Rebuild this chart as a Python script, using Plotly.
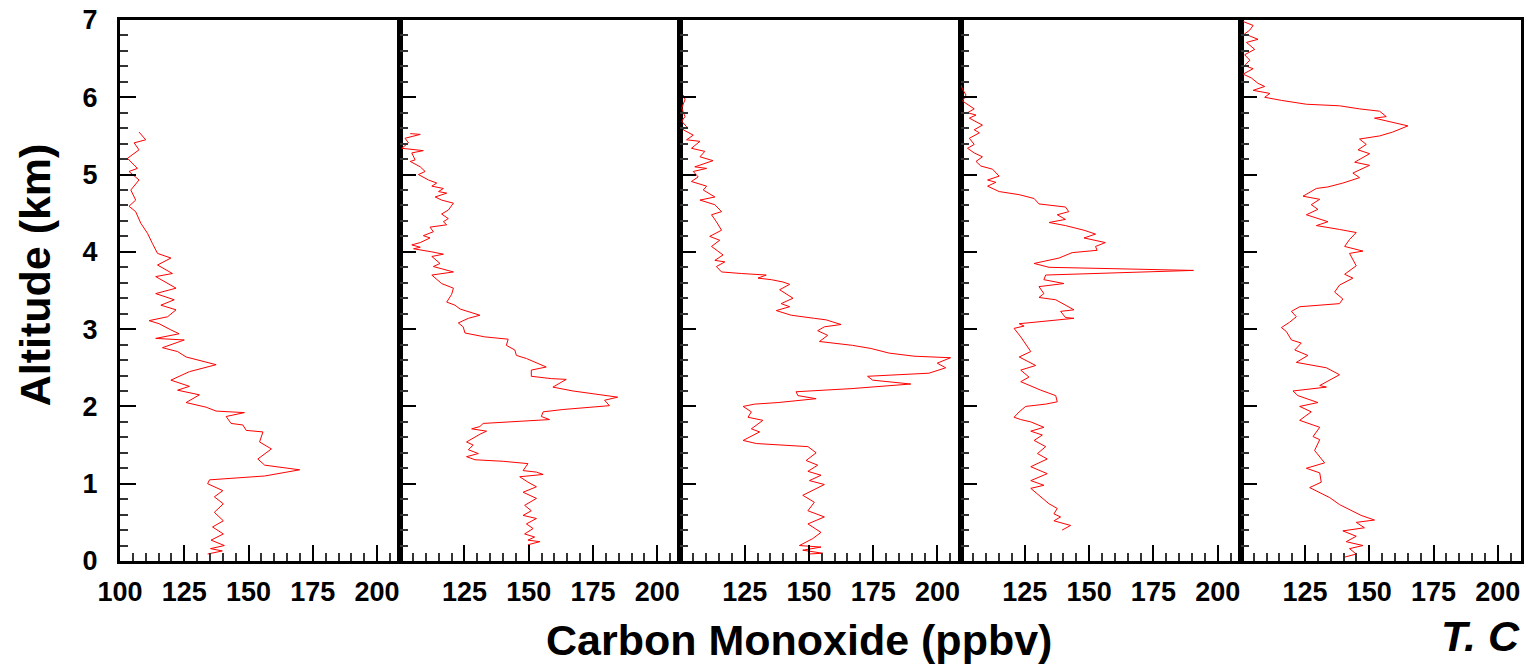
import plotly.graph_objects as go
from plotly.subplots import make_subplots

# CO profiles (ppbv) vs altitude (km), one per panel
alt_1 = [5.55, 5.45, 5.41, 5.32, 5.21, 5.08, 5.04, 4.93, 4.80, 4.67, 4.59, 4.52, 4.37, 4.24, 4.11,
         3.98, 3.92, 3.83, 3.72, 3.68, 3.53, 3.46, 3.38, 3.31, 3.25, 3.16, 3.11, 3.07, 2.99, 2.94,
         2.88, 2.86, 2.76, 2.71, 2.64, 2.54, 2.45, 2.34, 2.26, 2.21, 2.15, 2.05, 1.99, 1.94, 1.92,
         1.87, 1.78, 1.76, 1.69, 1.67, 1.54, 1.45, 1.32, 1.24, 1.18, 1.10, 1.05, 1.00, 0.91, 0.83,
         0.74, 0.63, 0.52, 0.44, 0.35, 0.27, 0.20, 0.16, 0.13, 0.09]
co_1 = [107.4, 110.0, 105.5, 107.4, 102.9, 106.8, 103.5, 107.4, 104.2, 106.1, 103.5, 106.1, 108.1, 110.7, 112.6,
        114.6, 119.8, 114.6, 120.4, 113.9, 121.8, 113.9, 121.1, 115.9, 121.8, 118.5, 111.3, 115.2, 119.8, 123.0,
        113.9, 125.0, 116.5, 122.4, 125.7, 137.4, 127.0, 119.8, 127.0, 122.4, 130.9, 125.7, 133.5, 137.4, 148.4,
        141.3, 143.2, 147.8, 149.1, 155.6, 154.3, 158.9, 153.6, 156.3, 169.9, 156.3, 134.8, 134.1, 140.0, 136.7,
        140.2, 136.7, 140.2, 136.0, 140.2, 135.4, 140.6, 135.2, 139.8, 134.1]

alt_2 = [5.53, 5.52, 5.47, 5.41, 5.34, 5.31, 5.28, 5.19, 5.17, 5.10, 5.04, 5.00, 4.93, 4.89, 4.85,
         4.82, 4.78, 4.76, 4.71, 4.67, 4.63, 4.54, 4.49, 4.43, 4.39, 4.35, 4.32, 4.26, 4.21, 4.18,
         4.12, 4.09, 4.06, 4.04, 4.00, 3.97, 3.94, 3.85, 3.81, 3.74, 3.70, 3.66, 3.59, 3.53, 3.45,
         3.35, 3.31, 3.26, 3.18, 3.14, 3.08, 3.03, 2.95, 2.90, 2.87, 2.79, 2.73, 2.66, 2.62, 2.51,
         2.47, 2.39, 2.36, 2.35, 2.25, 2.20, 2.15, 2.12, 2.08, 2.01, 1.96, 1.93, 1.87, 1.83, 1.78,
         1.74, 1.71, 1.68, 1.64, 1.54, 1.50, 1.44, 1.39, 1.35, 1.31, 1.29, 1.26, 1.17, 1.15, 1.12,
         1.09, 1.02, 0.96, 0.89, 0.81, 0.72, 0.65, 0.59, 0.55, 0.48, 0.42, 0.35, 0.31, 0.27, 0.25, 0.21]
co_2 = [103.9, 107.8, 101.9, 103.2, 100.6, 109.0, 104.5, 105.8, 103.9, 107.8, 109.7, 107.1, 111.0, 114.2, 112.3,
        116.8, 114.9, 118.1, 113.6, 116.1, 120.7, 118.7, 116.1, 118.7, 116.8, 118.1, 111.6, 112.9, 109.0, 111.6,
        107.8, 104.5, 107.8, 105.2, 112.3, 116.8, 112.3, 115.5, 112.9, 120.7, 112.3, 113.6, 116.1, 120.7, 120.0,
        118.1, 121.3, 123.3, 131.0, 126.5, 122.6, 124.5, 125.2, 132.9, 142.0, 141.3, 144.6, 145.2, 149.1, 156.8,
        151.0, 151.0, 158.8, 164.6, 159.4, 167.2, 177.5, 184.6, 179.5, 181.4, 163.3, 155.6, 154.9, 158.1, 132.3,
        131.0, 127.8, 133.6, 131.0, 125.8, 128.4, 126.5, 130.4, 125.8, 129.1, 140.1, 149.7, 147.8, 153.0, 155.6,
        146.5, 149.7, 153.0, 147.8, 153.0, 148.4, 151.0, 147.8, 153.0, 149.1, 151.7, 148.4, 152.3, 149.7, 154.3, 149.7]

alt_3 = [6.03, 5.97, 5.86, 5.75, 5.69, 5.62, 5.58, 5.51, 5.45, 5.43, 5.34, 5.30, 5.23, 5.18, 5.10,
         5.08, 5.04, 4.97, 4.91, 4.85, 4.80, 4.71, 4.67, 4.61, 4.52, 4.48, 4.39, 4.28, 4.20, 4.15,
         4.07, 3.96, 3.89, 3.87, 3.81, 3.74, 3.72, 3.70, 3.66, 3.64, 3.61, 3.58, 3.51, 3.40, 3.33,
         3.29, 3.24, 3.18, 3.14, 3.12, 3.06, 3.03, 2.98, 2.92, 2.84, 2.79, 2.75, 2.69, 2.65, 2.63,
         2.56, 2.50, 2.43, 2.39, 2.34, 2.29, 2.23, 2.19, 2.14, 2.10, 2.05, 2.03, 2.00, 1.93, 1.86,
         1.82, 1.71, 1.67, 1.56, 1.52, 1.48, 1.40, 1.30, 1.24, 1.16, 1.11, 1.04, 0.99, 0.85, 0.76,
         0.65, 0.57, 0.48, 0.37, 0.29, 0.20, 0.18, 0.14, 0.10, 0.09]
co_3 = [101.1, 101.8, 100.5, 101.8, 100.5, 102.4, 101.1, 105.0, 102.4, 107.6, 104.3, 109.5, 107.6, 112.7, 105.6,
        110.2, 105.0, 106.9, 104.3, 110.2, 108.9, 113.4, 107.6, 113.4, 116.0, 112.1, 114.0, 116.0, 111.4, 115.3,
        112.1, 116.6, 113.4, 117.3, 114.0, 116.0, 123.7, 133.4, 130.2, 135.4, 139.9, 142.5, 138.6, 143.8, 139.2,
        142.5, 137.3, 143.1, 152.1, 156.7, 162.5, 156.0, 153.4, 157.3, 154.1, 167.0, 174.1, 181.2, 190.9, 205.1,
        199.9, 203.2, 196.7, 172.8, 174.8, 189.6, 166.4, 145.0, 145.7, 152.8, 138.0, 128.9, 124.4, 127.6, 126.3,
        132.1, 127.6, 130.8, 124.4, 129.5, 149.6, 152.8, 148.9, 153.4, 149.6, 154.7, 150.2, 156.0, 147.6, 152.1,
        149.6, 156.0, 149.6, 154.7, 151.5, 146.3, 154.7, 147.6, 155.4, 149.6]

alt_4 = [6.16, 6.10, 6.03, 5.95, 5.85, 5.80, 5.77, 5.73, 5.64, 5.58, 5.54, 5.47, 5.39, 5.34, 5.28,
         5.23, 5.17, 5.11, 5.07, 4.98, 4.93, 4.90, 4.85, 4.78, 4.74, 4.69, 4.62, 4.58, 4.52, 4.48,
         4.42, 4.38, 4.34, 4.28, 4.23, 4.18, 4.12, 4.07, 4.02, 3.99, 3.92, 3.85, 3.80, 3.76, 3.70,
         3.64, 3.59, 3.55, 3.46, 3.41, 3.38, 3.29, 3.25, 3.23, 3.15, 3.14, 3.07, 3.04, 3.01, 2.90,
         2.77, 2.71, 2.64, 2.53, 2.47, 2.38, 2.32, 2.26, 2.21, 2.14, 2.06, 2.03, 2.00, 1.93, 1.86,
         1.83, 1.80, 1.73, 1.68, 1.63, 1.56, 1.48, 1.39, 1.32, 1.22, 1.13, 1.04, 0.98, 0.94, 0.85,
         0.74, 0.68, 0.61, 0.57, 0.52, 0.46, 0.40]
co_4 = [100.1, 100.8, 102.1, 100.8, 105.3, 102.7, 106.0, 103.4, 108.5, 105.3, 107.3, 103.4, 105.3, 102.7, 105.3,
        108.5, 106.0, 107.9, 112.4, 115.0, 110.5, 113.7, 110.5, 115.0, 122.8, 128.6, 130.5, 140.8, 142.1, 137.6,
        140.8, 134.4, 140.8, 148.0, 152.5, 148.0, 156.3, 152.5, 153.1, 143.4, 138.3, 128.6, 134.4, 190.6, 133.1,
        132.4, 140.2, 130.5, 132.4, 130.5, 137.0, 142.1, 144.1, 138.9, 140.8, 144.1, 122.8, 124.7, 120.8, 123.4,
        126.0, 127.3, 122.8, 129.2, 123.4, 126.6, 123.4, 127.3, 131.2, 137.0, 137.6, 133.1, 125.3, 122.8, 120.8,
        123.4, 127.3, 132.4, 127.3, 131.8, 128.6, 133.1, 129.9, 133.7, 127.3, 133.7, 127.3, 132.4, 127.3, 130.5,
        134.4, 137.6, 136.3, 138.9, 136.3, 142.8, 139.5]

alt_5 = [6.98, 6.93, 6.87, 6.82, 6.75, 6.71, 6.62, 6.55, 6.48, 6.41, 6.37, 6.30, 6.25, 6.18, 6.14,
         6.09, 6.05, 6.00, 5.96, 5.91, 5.89, 5.85, 5.82, 5.75, 5.73, 5.68, 5.63, 5.55, 5.50, 5.46,
         5.39, 5.32, 5.27, 5.16, 5.12, 5.02, 4.96, 4.89, 4.84, 4.82, 4.72, 4.68, 4.61, 4.55, 4.48,
         4.39, 4.34, 4.29, 4.25, 4.16, 4.07, 4.01, 3.98, 3.82, 3.71, 3.66, 3.57, 3.48, 3.39, 3.33,
         3.29, 3.23, 3.16, 3.09, 3.02, 2.97, 2.86, 2.82, 2.73, 2.66, 2.57, 2.50, 2.41, 2.27, 2.25,
         2.20, 2.14, 2.05, 2.00, 1.93, 1.82, 1.73, 1.61, 1.57, 1.43, 1.27, 1.20, 1.14, 1.02, 0.95,
         0.82, 0.73, 0.66, 0.59, 0.53, 0.50, 0.43, 0.39, 0.32, 0.25, 0.20, 0.16, 0.09, 0.05]
co_5 = [100.9, 104.8, 103.5, 101.5, 106.7, 102.2, 105.4, 101.5, 103.5, 101.5, 104.8, 100.9, 104.1, 106.7, 109.3,
        104.8, 111.3, 109.3, 115.8, 125.5, 138.4, 146.2, 154.0, 156.6, 152.0, 159.1, 165.0, 159.1, 154.0, 146.2,
        148.8, 145.6, 150.1, 144.3, 150.1, 143.6, 146.2, 139.7, 133.9, 129.4, 124.2, 130.7, 127.4, 130.0, 125.5,
        133.9, 129.4, 138.4, 144.9, 142.3, 140.4, 147.5, 142.3, 144.9, 140.4, 143.6, 138.4, 136.5, 139.7, 138.4,
        122.9, 119.7, 121.6, 119.0, 115.8, 117.7, 119.7, 123.5, 121.0, 126.1, 121.6, 133.3, 138.4, 130.7, 133.3,
        120.3, 122.2, 130.0, 122.9, 127.4, 122.9, 130.7, 128.1, 130.7, 128.7, 132.6, 125.5, 130.7, 131.3, 126.8,
        134.6, 138.4, 142.3, 146.8, 152.0, 144.9, 148.1, 139.7, 144.9, 141.0, 147.5, 142.3, 144.9, 140.4]

profiles = [(co_1, alt_1), (co_2, alt_2), (co_3, alt_3), (co_4, alt_4), (co_5, alt_5)]

FONT = "Liberation Sans, Arial, sans-serif"

fig = make_subplots(rows=1, cols=5, shared_yaxes=True, horizontal_spacing=0)

for i, (co, alt) in enumerate(profiles):
    fig.add_trace(go.Scatter(x=co, y=alt, mode="lines",
                             line=dict(color="#ff0000", width=1)),
                  row=1, col=i + 1)
    if i == 0:
        vals = [100, 125, 150, 175, 200]
    else:
        vals = [125, 150, 175, 200]
    fig.update_xaxes(tickmode="array", tickvals=vals, ticktext=[str(v) for v in vals],
                     row=1, col=i + 1)

fig.update_xaxes(
    range=[100, 209],
    ticks="inside", ticklen=16, tickwidth=2, tickcolor="black",
    minor=dict(tickmode="linear", tick0=100, dtick=5, ticks="inside",
               ticklen=8, tickwidth=1.5, tickcolor="#333"),
    showline=True, linewidth=3, linecolor="black", mirror=True,
    showgrid=False, zeroline=False, automargin=False,
    tickfont=dict(family=FONT, size=27, color="black", weight="bold"),
    ticklabelstandoff=5,
)
fig.update_yaxes(
    range=[0, 7], tick0=0, dtick=1,
    ticks="inside", ticklen=16, tickwidth=2, tickcolor="black",
    minor=dict(dtick=0.2, ticks="inside", ticklen=8, tickwidth=1.5, tickcolor="#333"),
    showline=True, linewidth=3, linecolor="black", mirror=True,
    showgrid=False, zeroline=False, automargin=False,
    tickfont=dict(family=FONT, size=27, color="black", weight="bold"),
    ticklabelstandoff=14,
    ticklabeloverflow="allow",
)

fig.update_layout(
    width=1525, height=668,
    margin=dict(l=120, r=4, t=20, b=107),
    plot_bgcolor="white", paper_bgcolor="white",
    showlegend=False,
    annotations=[
        dict(text="Carbon Monoxide (ppbv)", xref="paper", yref="paper",
             x=0.485, y=-0.146, xanchor="center", yanchor="middle", showarrow=False,
             font=dict(family=FONT, size=43, color="black", weight="bold")),
        dict(text="Altitude (km)", xref="paper", yref="paper", textangle=-90,
             x=-0.061, y=0.529, xanchor="center", yanchor="middle", showarrow=False,
             font=dict(family=FONT, size=43, color="black", weight="bold")),
        dict(text="T. C", xref="paper", yref="paper",
             x=1.001, y=-0.139, xanchor="right", yanchor="middle", showarrow=False,
             font=dict(family=FONT, size=43, color="black", weight="bold", style="italic")),
    ],
)

# drop the default page margin so the figure fills the window exactly
fig.write_html(
    "out.html",
    config={"displayModeBar": False},
    post_script="document.body.style.margin='0';"
                "document.body.style.overflow='hidden';"
                "document.documentElement.style.overflow='hidden';",
)
